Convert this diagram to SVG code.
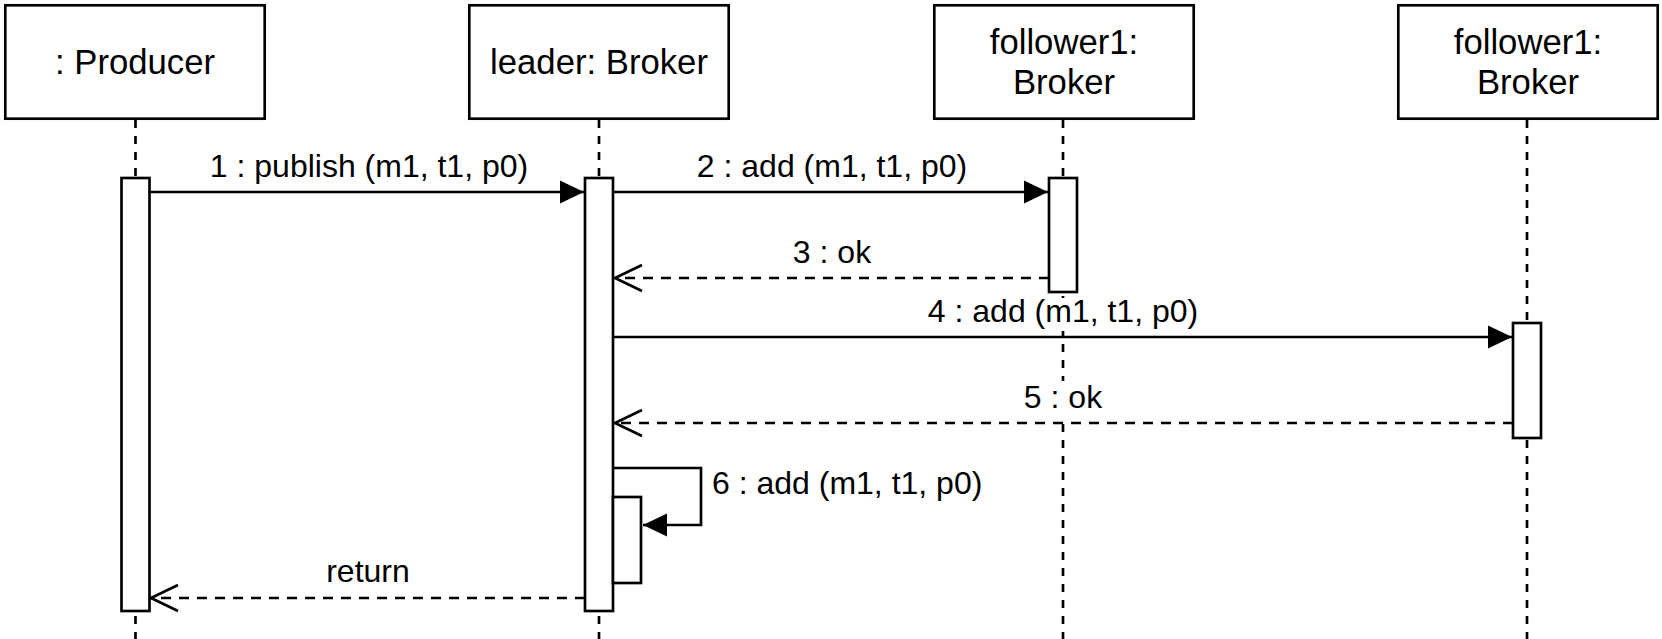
<svg xmlns="http://www.w3.org/2000/svg" width="1662" height="639" viewBox="0 0 1662 639">
<style>
.box{fill:#fff;stroke:#000;stroke-width:2.67}
.act{fill:#fff;stroke:#000;stroke-width:2.67}
.life{fill:none;stroke:#000;stroke-width:2.67;stroke-dasharray:8 8}
.msg{fill:none;stroke:#000;stroke-width:2.67}
.ret{fill:none;stroke:#000;stroke-width:2.67;stroke-dasharray:10 8}
.bg{fill:#fff;stroke:none}
.bt{font-family:"Liberation Sans",Arial,sans-serif;font-size:34.7px;text-anchor:middle;fill:#000}
.lt{font-family:"Liberation Sans",Arial,sans-serif;font-size:32px;text-anchor:middle;fill:#000}
</style>
<defs>
<marker id="fill" markerUnits="userSpaceOnUse" markerWidth="30" markerHeight="30" viewBox="0 0 30 30" refX="25" refY="15" orient="auto">
<path d="M1,3.5 L25,15 L1,26.5 Z" fill="#000"/>
</marker>
<marker id="open" markerUnits="userSpaceOnUse" markerWidth="34" markerHeight="34" viewBox="0 0 34 34" refX="29" refY="17" orient="auto">
<path d="M2,4 L29,17 L2,30" fill="none" stroke="#000" stroke-width="2.67"/>
</marker>
</defs>
<g id="lifelines">
<line class="life" x1="135.5" y1="120" x2="135.5" y2="639"/>
<line class="life" x1="599" y1="120" x2="599" y2="639"/>
<line class="life" x1="1063" y1="120" x2="1063" y2="639"/>
<line class="life" x1="1527" y1="120" x2="1527" y2="639"/>
</g>
<g id="producer">
<rect class="box" x="5.3" y="5.3" width="259.4" height="113.4"/>
<text class="bt" x="135" y="74">: Producer</text>
<rect class="act" x="121.5" y="178" width="28" height="433"/>
</g>
<g id="leader">
<rect class="box" x="469.3" y="5.3" width="259.4" height="113.4"/>
<text class="bt" x="599" y="74">leader: Broker</text>
<rect class="act" x="585" y="178" width="28" height="433"/>
<rect class="act" x="613" y="497" width="28" height="86"/>
</g>
<g id="follower1">
<rect class="box" x="934.3" y="5.3" width="259.4" height="113.4"/>
<text class="bt" x="1064" y="54">follower1:</text>
<text class="bt" x="1064" y="94">Broker</text>
<rect class="act" x="1049" y="178" width="28" height="114"/>
</g>
<g id="follower2">
<rect class="box" x="1398.3" y="5.3" width="259.4" height="113.4"/>
<text class="bt" x="1528" y="54">follower1:</text>
<text class="bt" x="1528" y="94">Broker</text>
<rect class="act" x="1513" y="323" width="28" height="115"/>
</g>
<g id="connectors">
<line class="msg" x1="150" y1="192" x2="584" y2="192" marker-end="url(#fill)"/>
<text class="lt" x="369" y="177">1 : publish (m1, t1, p0)</text>
<line class="msg" x1="614" y1="192" x2="1048" y2="192" marker-end="url(#fill)"/>
<text class="lt" x="832" y="177">2 : add (m1, t1, p0)</text>
<line class="ret" x1="1049" y1="278" x2="615" y2="278" marker-end="url(#open)"/>
<text class="lt" x="832" y="263">3 : ok</text>
<line class="msg" x1="614" y1="337" x2="1512" y2="337" marker-end="url(#fill)"/>
<rect class="bg" x="927" y="298" width="272" height="33"/>
<text class="lt" x="1063" y="322">4 : add (m1, t1, p0)</text>
<line class="ret" x1="1513" y1="423" x2="615" y2="423" marker-end="url(#open)"/>
<rect class="bg" x="1025" y="381" width="79" height="36"/>
<text class="lt" x="1063" y="408">5 : ok</text>
<path class="msg" d="M614,468 L701,468 L701,525 L643,525" marker-end="url(#fill)"/>
<text class="lt" x="712" y="494" style="text-anchor:start">6 : add (m1, t1, p0)</text>
<line class="ret" x1="585" y1="598" x2="151" y2="598" marker-end="url(#open)"/>
<text class="lt" x="368" y="582">return</text>
</g>
</svg>
